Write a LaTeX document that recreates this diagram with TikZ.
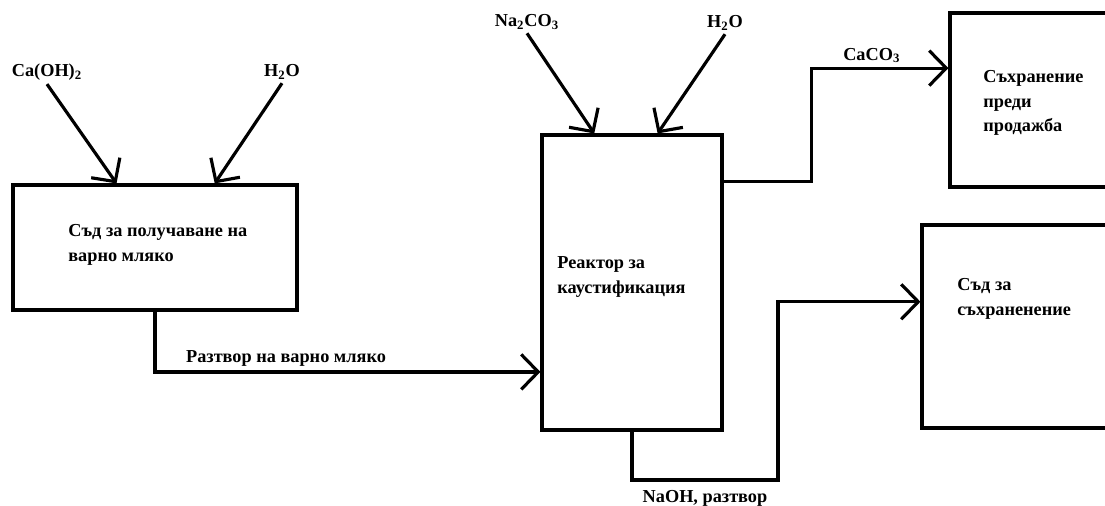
\documentclass[tikz,border=0pt]{standalone}
\usepackage{fontspec}
\setmainfont{Liberation Serif}
\usetikzlibrary{positioning}
\usetikzlibrary{calc,arrows.meta}

\tikzset{
  box/.style={draw=black, line width=1.8pt, rectangle, inner sep=0pt},
  flow/.style={line width=1.8pt, -{Straight Barb[length=0.34cm,width=0.7cm]}},
  txt/.style={font=\bfseries\fontsize{10.4}{13.8}\selectfont, align=left, inner sep=0pt, anchor=west},
  chem/.style={font=\bfseries\fontsize{10.4}{12}\selectfont, inner sep=2pt},
}

\begin{document}
\begin{tikzpicture}[x=0.02cm, y=-0.02cm]
	\useasboundingbox (0,0) rectangle (1105,506);
	% boxes
	\node[box, minimum width=5.68cm, minimum height=2.5cm] (mlk) at (155,247.5) {};
	\node[box, minimum width=3.6cm, minimum height=5.9cm] (rct) at (632,282.5) {};
	\node[box, minimum width=3.5cm, minimum height=3.48cm] (st) at (1037.5,100) {};
	\node[box, minimum width=3.76cm, minimum height=4.06cm] (sv) at (1016,326.5) {};
	\node[txt] at (68,245) {Съд за получаване на\\варно мляко};
	\node[txt] at (557,277) {Реактор за\\каустификация};
	\node[txt] at (983,103) {Съхранение\\преди\\продажба};
	\node[txt] at (957,299) {Съд за\\съхраненение};
	% feeds
	\node[chem] (caoh) at (47,72) {Ca(OH)\textsubscript{2}};
	\node[chem] (wa) at (282,72) {H\textsubscript{2}O};
	\node[chem] (nac) at (527,22) {Na\textsubscript{2}CO\textsubscript{3}};
	\node[chem] (wb) at (725,23) {H\textsubscript{2}O};
	\draw[flow] (caoh.south) -- ($(mlk.north west)!0.366!(mlk.north east)$);
	\draw[flow] (wa.south) -- ($(mlk.north west)!0.708!(mlk.north east)$);
	\draw[flow] (nac.south) -- ($(rct.north west)!0.294!(rct.north east)$);
	\draw[flow] (wb.south) -- ($(rct.north west)!0.64!(rct.north east)$);
	% products
	\draw[flow] (mlk.south) |- node[chem, pos=0.67, above] {Разтвор на варно мляко} ($(rct.south west)!0.2!(rct.north west)$);
	\draw[flow] ($(rct.north east)!0.16!(rct.south east)$) -- ++(88,0) |- node[chem, pos=0.72, above] {CaCO\textsubscript{3}} ($(st.north west)!0.32!(st.south west)$);
	\coordinate (bend) at (778,480);
	\draw[flow] (rct.south) |- node[chem, pos=0.75, below=3pt] {NaOH, разтвор} (bend) |- ($(sv.north west)!0.38!(sv.south west)$);
\end{tikzpicture}
\end{document}
